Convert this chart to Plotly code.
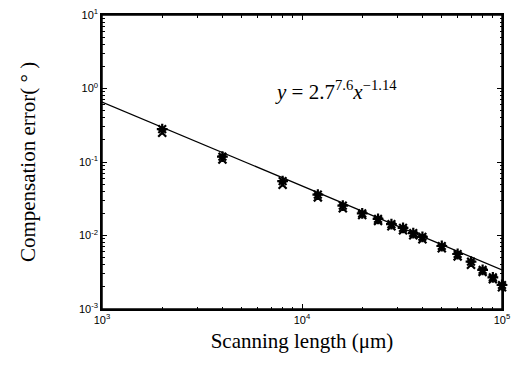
import plotly.graph_objects as go

# Data
scan_len = [2000, 4000, 8000, 12000, 16000, 20000, 24000, 28000, 32000, 36000,
            40000, 50000, 60000, 70000, 80000, 90000, 100000]
err_a = [0.28, 0.118, 0.055, 0.036, 0.0255, 0.0200, 0.0168, 0.0143, 0.0127, 0.0108,
         0.0096, 0.0072, 0.0056, 0.0044, 0.0034, 0.0027, 0.00212]
err_b = [0.25, 0.108, 0.049, 0.033, 0.0235, 0.0190, 0.0158, 0.0134, 0.0118, 0.0101,
         0.0089, 0.0067, 0.0052, 0.0040, 0.0032, 0.00255, 0.00198]
fit_x = [1000, 100000]
fit_y = [0.655, 0.0034]

x_ticks = [1000, 10000, 100000]
x_ticktext = ["10<sup>3</sup>", "10<sup>4</sup>", "10<sup>5</sup>"]
y_ticks = [0.001, 0.01, 0.1, 1, 10]
y_ticktext = ["10<sup>-3</sup>", "10<sup>-2</sup>", "10<sup>-1</sup>", "10<sup>0</sup>", "10<sup>1</sup>"]
mult = [2, 3, 4, 5, 6, 7, 8, 9]
x_minor = [m * d for d in [1000, 10000] for m in mult]
y_minor = [m * d for d in [0.001, 0.01, 0.1, 1] for m in mult]

fig = go.Figure()
fig.add_trace(go.Scatter(x=fit_x, y=fit_y, mode="lines",
                         line=dict(color="black", width=1.3), showlegend=False,
                         cliponaxis=False))
fig.add_trace(go.Scatter(x=scan_len, y=err_a, mode="markers", cliponaxis=False,
                         marker=dict(symbol="asterisk-open", size=9, color="black",
                                     line=dict(color="black", width=2.2)), showlegend=False))
fig.add_trace(go.Scatter(x=scan_len, y=err_b, mode="markers", cliponaxis=False,
                         marker=dict(symbol="x-thin-open", size=8, color="black",
                                     line=dict(color="black", width=2.2)), showlegend=False))

# frame around the plot area
fig.add_shape(type="rect", xref="x domain", yref="y domain", x0=0, y0=0, x1=1, y1=1,
              line=dict(color="black", width=1.5), fillcolor="rgba(0,0,0,0)", layer="above")

# leader line and equation text (log coordinates for log axes)
fig.add_shape(type="line", xref="x", yref="y",
              x0=3.55, y0=-0.80, x1=3.75, y1=-0.265,
              line=dict(color="black", width=1.5))
fig.add_annotation(x=3.855, y=-0.03, xref="x", yref="y", xanchor="left", yanchor="middle",
                   text="<i>y</i> = 2.7<sup>7.6</sup><i>x</i><sup>\u22121.14</sup>",
                   showarrow=False,
                   font=dict(family="Liberation Serif", size=21, color="black"))

base = dict(type="log", showgrid=False, zeroline=False, automargin=False,
            showline=True, linecolor="black", linewidth=1.5, mirror="ticks",
            ticks="inside", ticklen=5, tickcolor="black",
            ticklabeloverflow="allow",
            tickfont=dict(family="Liberation Sans", size=11, color="black"))

minor_ax = dict(type="log", showticklabels=False, ticks="inside", ticklen=2.5,
                tickcolor="black", mirror="ticks", showline=False, showgrid=False,
                zeroline=False, automargin=False)

fig.update_layout(
    xaxis=dict(range=[3, 5], tickvals=x_ticks, ticktext=x_ticktext,
               title=dict(text="Scanning length (\u03bcm)", standoff=8,
                          font=dict(family="Liberation Serif", size=21, color="black")),
               **base),
    yaxis=dict(range=[-3, 1], tickvals=y_ticks, ticktext=y_ticktext,
               title=dict(text="Compensation error( \u00b0 )", standoff=38,
                          font=dict(family="Liberation Serif", size=21, color="black")),
               **base),
    # overlay axes carrying the small minor ticks
    xaxis2=dict(range=[3, 5], overlaying="x", side="bottom", anchor="y",
                tickvals=x_minor, **minor_ax),
    yaxis2=dict(range=[-3, 1], overlaying="y", side="left", anchor="x",
                tickvals=y_minor, **minor_ax),
    # top and right frame axes
    xaxis3=dict(type="log", range=[3, 5], overlaying="x", side="top", anchor="y",
                tickvals=x_ticks, showticklabels=False, ticks="inside", ticklen=5,
                tickcolor="black", showline=True, linecolor="black", linewidth=1.5,
                showgrid=False, zeroline=False, automargin=False),
    yaxis3=dict(type="log", range=[-3, 1], overlaying="y", side="right", anchor="x",
                tickvals=y_ticks, showticklabels=False, ticks="inside", ticklen=5,
                tickcolor="black", showline=True, linecolor="black", linewidth=1.5,
                showgrid=False, zeroline=False, automargin=False),
)
fig.add_trace(go.Scatter(x=[fit_x[0]], y=[fit_y[0]], xaxis="x2", yaxis="y2",
                         mode="markers", marker=dict(opacity=0), hoverinfo="skip",
                         showlegend=False))
fig.add_trace(go.Scatter(x=[fit_x[0]], y=[fit_y[0]], xaxis="x3", yaxis="y3",
                         mode="markers", marker=dict(opacity=0), hoverinfo="skip",
                         showlegend=False))

fig.update_layout(width=512, height=367,
                  margin=dict(l=102, r=10, t=15, b=58),
                  paper_bgcolor="white", plot_bgcolor="white",
                  showlegend=False)

fig.write_html("out.html", config={"displayModeBar": False},
               post_script="document.body.style.margin='0';document.body.style.overflow='hidden';")
